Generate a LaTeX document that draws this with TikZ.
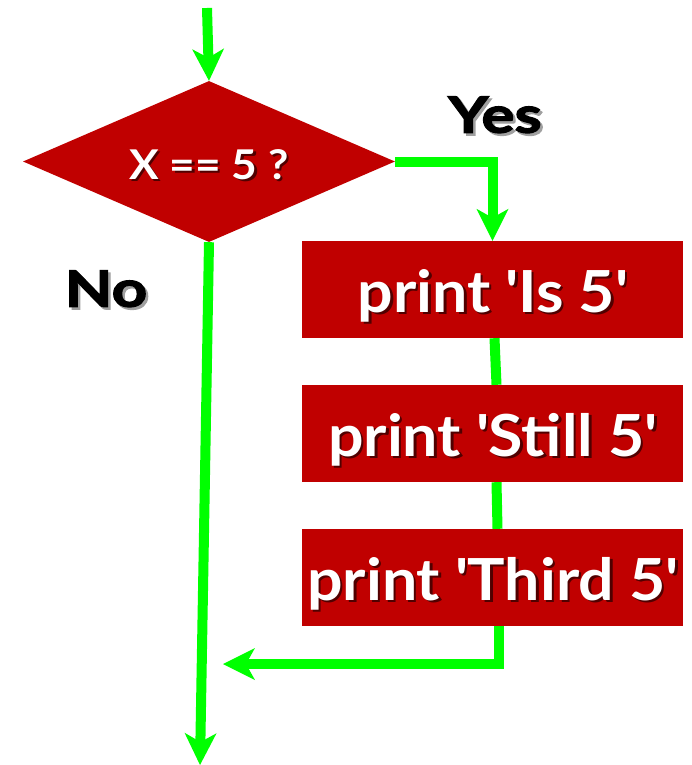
\documentclass[tikz,border=0pt]{standalone}
\usepackage{fontspec}
\setmainfont{Lato}
\newfontfamily\flowfont{Lato}[FakeStretch=1.08]
\newfontfamily\answerfont{Lato}[FakeStretch=1.24,BoldFeatures={FakeBold=2.5}]
\usetikzlibrary{shapes.geometric,arrows.meta}
\definecolor{boxred}{RGB}{192,0,0}
\definecolor{flowgreen}{RGB}{0,255,0}
\definecolor{darkshade}{RGB}{80,0,0}
\definecolor{greyshade}{RGB}{160,160,160}
% text with a small drop shadow behind it
\newcommand\shtext[2]{\leavevmode\rlap{\kern2.5pt\raisebox{-2.5pt}{\textcolor{#1}{#2}}}#2}
\newcommand\sq{\textquotesingle}
\begin{document}
\begin{tikzpicture}[x=1pt,y=-1pt,
  flow/.style={draw=flowgreen,line width=10pt,line join=miter},
  tip/.style={-{Stealth[length=32pt,width=32pt,inset=9pt,line width=0pt]}},
  stepbox/.style={fill=boxred,minimum width=381pt,minimum height=97pt,inner sep=0pt,
    text=white,text height=45pt,text depth=0pt,font=\flowfont\bfseries\fontsize{58}{62}\selectfont},
  decision/.style={diamond,fill=boxred,minimum width=372pt,minimum height=161pt,
    shape aspect=2.31,inner sep=0pt,text=white,text height=35pt,text depth=0pt,
    font=\flowfont\bfseries\fontsize{41}{45}\selectfont},
  answer/.style={text=black,inner sep=0pt,font=\answerfont\bfseries\fontsize{50}{54}\selectfont}]
\useasboundingbox (0,0) rectangle (692,765);

% nodes
\node[decision] (dec) at (209,161.5) {\shtext{darkshade}{X == 5 ?}};
\node[stepbox] (b1) at (492.5,289.5) {\shtext{darkshade}{print \sq Is 5\sq}};
\node[stepbox] (b2) at (492.5,433.5) {\shtext{darkshade}{print \sq Still 5\sq}};
\node[stepbox] (b3) at (492.5,577.5) {\shtext{darkshade}{print \sq Third 5\sq}};
\node[answer] (yes) at (495,116) {\shtext{greyshade}{Yes}};
\node[answer] (no) at (106,290) {\shtext{greyshade}{No}};

% free ends of the flow
\coordinate (entry) at (207,8);
\coordinate (merge) at (223,664);
\coordinate (exit) at (200,765);

% connectors
\draw[flow,tip] (entry) -- (dec.north);
\draw[flow,tip] (dec.east) -| (b1.north);
\draw[flow] ([xshift=2pt]b1.south) -- ([xshift=4pt]b2.north);
\draw[flow] ([xshift=4pt]b2.south) -- ([xshift=5pt]b3.north);
\draw[flow,tip] ([xshift=6pt]b3.south) |- (merge);
\draw[flow,tip] (dec.south) -- (exit);
\end{tikzpicture}
\end{document}
